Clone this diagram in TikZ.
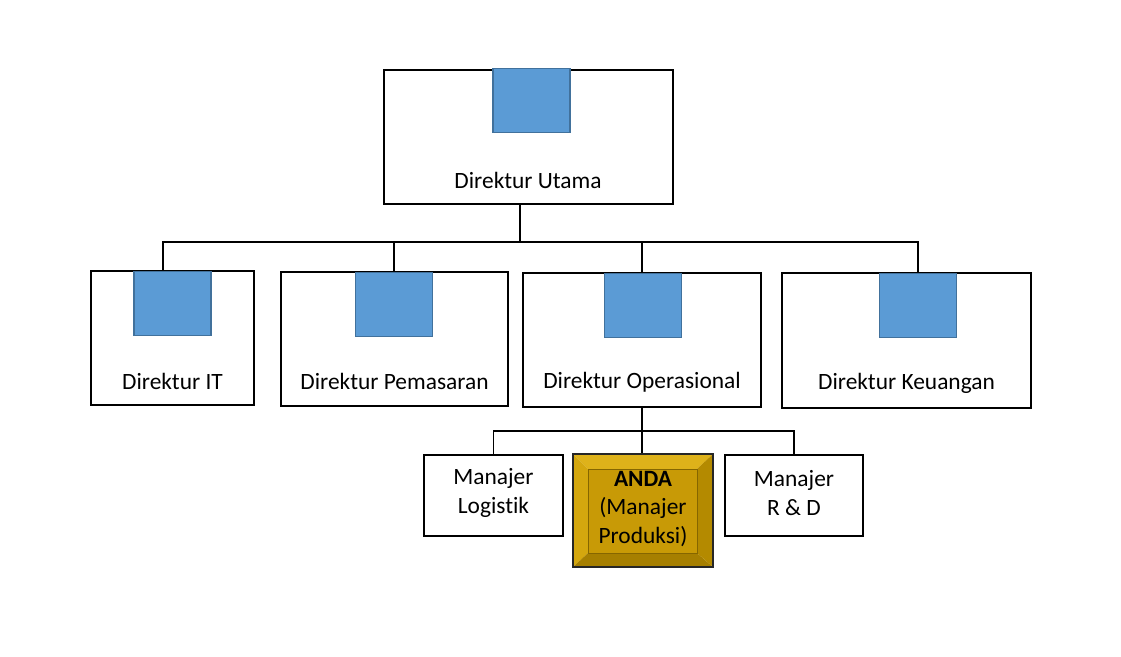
\documentclass[tikz,border=0pt]{standalone}
\usepackage{fontspec}
\setmainfont{Carlito}[RawFeature=-liga]
\usetikzlibrary{positioning, calc}
\definecolor{foto_blue}{RGB}{91, 155, 213}
\definecolor{foto_edge}{RGB}{65, 113, 156}
\definecolor{gold_face}{RGB}{200, 154, 6}
\definecolor{gold_light}{RGB}{222, 178, 26}
\definecolor{gold_mid}{RGB}{212, 167, 14}
\definecolor{gold_dark}{RGB}{166, 127, 0}
\definecolor{gold_deep}{RGB}{180, 138, 0}

\begin{document}
\begin{tikzpicture}[
    x=1pt, y=-1pt,
    box/.style={
        rectangle,
        draw=black,
        fill=white,
        line width=1.8pt,
        inner sep=0pt
    },
    foto/.style={
        rectangle,
        draw=foto_edge,
        fill=foto_blue,
        line width=1.4pt,
        minimum width=77pt,
        minimum height=64pt,
        anchor=north,
        inner sep=0pt
    },
    lbl/.style={
        font=\fontsize{23.4}{28.5}\selectfont,
        align=center,
        inner sep=0pt
    },
    conn/.style={
        line width=1.8pt
    }
]
\useasboundingbox (0,0) rectangle (1121,656);

% Main director node
\node[box, minimum width=289pt, minimum height=134pt] (utama) at (528.5,137) {};

% Director nodes
\node[box, minimum width=163pt, minimum height=134pt] (it) at (172.5,338) {};
\node[box, minimum width=227pt, minimum height=134pt] (pem) at (394.5,339) {};
\node[box, minimum width=238pt, minimum height=134pt] (ops) at (642,340) {};
\node[box, minimum width=249pt, minimum height=135pt] (keu) at (906.5,340.5) {};

% Manager nodes
\node[box, minimum width=139pt, minimum height=81pt] (log) at (493.5,495.5) {};
\node[box, minimum width=138pt, minimum height=81pt] (rnd) at (794,495.5) {};

% Photo placeholders
\node[foto] (utama-foto) at (531.5,68) {};
\node[foto] (it-foto) at (172.5,271) {};
\node[foto] (pem-foto) at (394,272) {};
\node[foto] (ops-foto) at (643,273) {};
\node[foto] (keu-foto) at (918,273) {};

% Highlighted node (bevel)
\coordinate (anda-nw) at (573,454);
\coordinate (anda-se) at (713,567);
\coordinate (face-nw) at (588,469);
\coordinate (face-se) at (697,553);
\fill[gold_light] (anda-nw) -- (anda-nw -| anda-se) -- (face-nw -| face-se) -- (face-nw) -- cycle;
\fill[gold_mid] (anda-nw) -- (face-nw) -- (face-se -| face-nw) -- (anda-se -| anda-nw) -- cycle;
\fill[gold_dark] (anda-se -| anda-nw) -- (face-se -| face-nw) -- (face-se) -- (anda-se) -- cycle;
\fill[gold_deep] (anda-se) -- (face-se) -- (face-nw -| face-se) -- (anda-nw -| anda-se) -- cycle;
\fill[gold_face, draw=gold_dark!80!black, line width=0.6pt] (face-nw) rectangle (face-se);
\node[draw=black!85, line width=2.6pt, inner sep=0pt, minimum width=140pt, minimum height=113pt] (anda) at (643,510.5) {};

% Labels
\node[lbl] (utama-lbl) at (528,180) {Direktur Utama};
\node[lbl] (it-lbl) at (172.5,381) {Direktur IT};
\node[lbl] (pem-lbl) at (394.5,381) {Direktur Pemasaran};
\node[lbl] (ops-lbl) at (642,382) {Direktur Operasional};
\node[lbl] (keu-lbl) at (906.5,383) {Direktur Keuangan};
\node[lbl] (log-lbl) at (493.5,493) {Manajer\\Logistik};
\node[lbl] (rnd-lbl) at (794,493) {Manajer\\R \& D};
\node[lbl] (anda-lbl) at (643,509) {\textbf{ANDA}\\(Manajer\\Produksi)};

% Connecting lines
\coordinate (bus) at (520,242);
\coordinate (subbus) at (642,431);
\draw[conn] ([xshift=-8.5pt]utama.south) -- (bus);
\draw[conn] ([xshift=-9.5pt]it.north) |- (bus) -| ([xshift=11.5pt]keu.north);
\draw[conn] ([xshift=-0.5pt]pem.north) -- ([xshift=-0.5pt]pem.north |- bus);
\draw[conn] (ops.north) -- (ops.north |- bus);

\draw[conn] (ops.south) -- (anda.north -| ops.south);
\draw[conn] (log.north) |- (subbus) -| (rnd.north);

\end{tikzpicture}
\end{document}
